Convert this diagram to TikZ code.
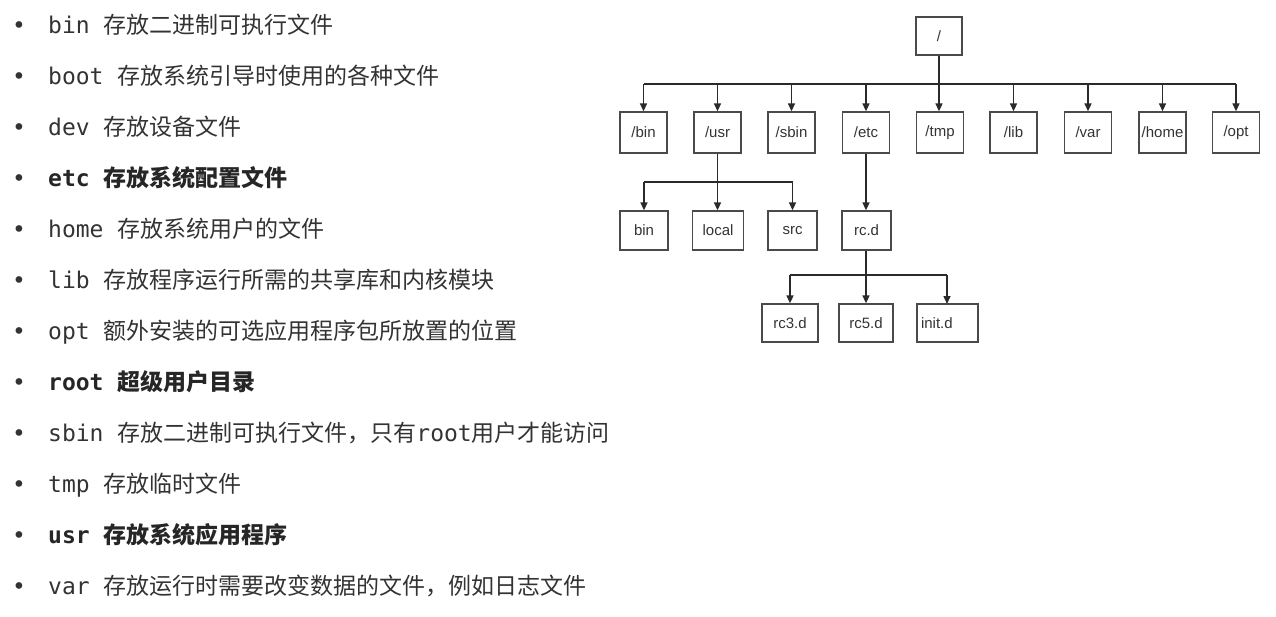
\documentclass[tikz,border=0pt]{standalone}
\usepackage{fontspec}
\setmainfont{Liberation Sans}
\setmonofont{DejaVu Sans Mono}
\newfontfamily\cjk{Noto Sans CJK SC}
\newfontfamily\boxfont{Liberation Sans}
\usetikzlibrary{arrows.meta}
\definecolor{txt}{HTML}{333333}
\definecolor{ln}{HTML}{2A2A2A}
\definecolor{bx}{HTML}{4A4A4A}
\newcommand{\mt}[1]{{\ttfamily #1}}
\begin{document}
\begin{tikzpicture}[x=1pt,y=-1pt,
  item/.style={anchor=base west,inner sep=0pt,text=txt,font=\fontsize{23}{26}\selectfont\cjk},
  bitem/.style={item,font=\fontsize{23}{26}\selectfont\cjk\bfseries,text=black!85},
  bul/.style={anchor=base,inner sep=0pt,text=txt,font=\fontsize{23}{26}\selectfont\ttfamily},
  dirbox/.style={draw=bx,line width=1.3pt,minimum height=41pt,minimum width=47pt,inner sep=0pt,text=txt,font=\fontsize{15}{17}\selectfont\boxfont},
  link/.style={draw=ln,line width=1.5pt},
  arr/.style={link,-{Triangle[length=8pt,width=7pt]}}]
\useasboundingbox (0,0) rectangle (1276,616);
% ---------- list ----------
\foreach \i in {0,...,11} \node[bul] (b\i) at (19,{33+51*\i}) {•};
\node[item]  (t0)  at (48,33)  {\mt{bin~}存放二进制可执行文件};
\node[item]  (t1)  at (48,84)  {\mt{boot~}存放系统引导时使用的各种文件};
\node[item]  (t2)  at (48,135) {\mt{dev~}存放设备文件};
\node[bitem] (t3)  at (48,186) {\mt{\bfseries etc~}存放系统配置文件};
\node[item]  (t4)  at (48,237) {\mt{home~}存放系统用户的文件};
\node[item]  (t5)  at (48,288) {\mt{lib~}存放程序运行所需的共享库和内核模块};
\node[item]  (t6)  at (48,339) {\mt{opt~}额外安装的可选应用程序包所放置的位置};
\node[bitem] (t7)  at (48,390) {\mt{\bfseries root~}超级用户目录};
\node[item]  (t8)  at (48,441) {\mt{sbin~}存放二进制可执行文件，只有\mt{root}用户才能访问};
\node[item]  (t9)  at (48,492) {\mt{tmp~}存放临时文件};
\node[bitem] (t10) at (48,543) {\mt{\bfseries usr~}存放系统应用程序};
\node[item]  (t11) at (48,594) {\mt{var~}存放运行时需要改变数据的文件，例如日志文件};
% ---------- tree ----------
\node[dirbox,minimum width=46pt,minimum height=38pt] (root) at (939,36) {/};
\node[dirbox] (l1) at (643.5,132.5) {/bin};
\node[dirbox] (l2) at (717.5,132.5) {/usr};
\node[dirbox] (l3) at (791.5,132.5) {/sbin};
\node[dirbox] (l4) at (866,132.5) {/etc};
\node[dirbox] (l5) at (940,132.5) {/tmp};
\node[dirbox] (l6) at (1013.5,132.5) {/lib};
\node[dirbox] (l7) at (1088,132.5) {/var};
\node[dirbox] (l8) at (1162.5,132.5) {/home};
\node[dirbox] (l9) at (1236,132.5) {/opt};
\node[dirbox,minimum width=48pt,minimum height=39pt] (u1) at (644,230.5) {bin};
\node[dirbox,minimum width=51pt,minimum height=39pt] (u2) at (718,230.5) {local};
\node[dirbox,minimum width=49pt,minimum height=39pt] (u3) at (792.5,230.5) {src};
\node[dirbox,minimum width=49pt,minimum height=39pt] (rcd) at (866.5,230.5) {rc.d};
\node[dirbox,minimum width=56pt,minimum height=38pt] (r1) at (790,323) {rc3.d};
\node[dirbox,minimum width=54pt,minimum height=38pt] (r2) at (866,323) {rc5.d};
\node[dirbox,minimum width=61pt,minimum height=38pt,text width=53pt,align=left,inner xsep=4pt] (r3) at (947.5,323) {init.d};
% connectors level 1
\coordinate (j0) at (939,84);
\draw[link] (root.south) -- (j0);
\draw[link] (l1.north |- j0) -- (l9.north |- j0);
\foreach \c in {l1,l2,l3,l4,l6,l7,l8,l9} \draw[arr] (\c.north |- j0) -- (\c.north);
\draw[arr] (j0) -- (j0 |- l5.north);
% connectors usr
\coordinate (j1) at (717.5,182);
\draw[link] (l2.south) -- (j1);
\draw[link] (u1.north |- j1) -- (u3.north |- j1);
\draw[arr] (j1) -- (j1 |- u2.north);
\draw[arr] (u1.north |- j1) -- (u1.north);
\draw[arr] (u3.north |- j1) -- (u3.north);
% connectors etc
\draw[arr] (l4.south) -- (l4.south |- rcd.north);
\coordinate (j2) at (866,275);
\draw[link] (rcd.south -| j2) -- (j2);
\draw[link] (r1.north |- j2) -- (947,275);
\draw[arr] (r1.north |- j2) -- (r1.north);
\draw[arr] (j2) -- (j2 |- r2.north);
\draw[arr] (947,275) -- (947,304);
\end{tikzpicture}
\end{document}
